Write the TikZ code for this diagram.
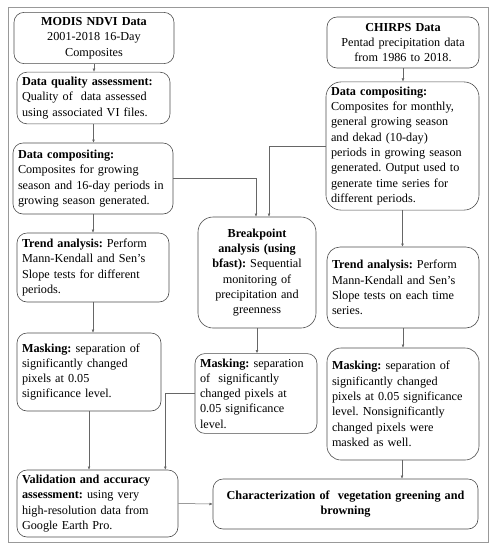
\documentclass[tikz,border=0pt]{standalone}
\usepackage{fontspec}
\setmainfont{Liberation Serif}
\usetikzlibrary{arrows.meta}
\frenchspacing

\begin{document}
\begin{tikzpicture}[x=1pt,y=-1pt,
  box/.style={draw=black!70, rounded corners=10pt, line width=0.6pt, inner sep=5pt, align=left, font=\fontsize{12.2}{15.3}\selectfont},
  arr/.style={draw=black!60, line width=0.5pt, -{Latex[length=3.2pt,width=2.8pt]}}]
\useasboundingbox (0,0) rectangle (496,550);
\draw[black!40, line width=0.8pt] (8,7) rectangle (488,542);

% left column (NDVI)
\node[box, align=center, text width=150pt, minimum height=44pt] (modis) at (94,38) {\textbf{MODIS NDVI Data}\\2001-2018 16-Day\\Composites};
\node[box, text width=143pt, minimum height=50pt] (quality) at (93.5,98) {\textbf{Data quality assessment:}\\Quality of\ \ data assessed\\using associated VI files.};
\node[box, text width=150pt, minimum height=71pt] (compL) at (93,178.5) {\textbf{Data compositing:}\\Composites for growing\\season and 16-day periods in\\growing season generated.};
\node[box, text width=142pt, minimum height=69pt] (trendL) at (93,267.5) {\textbf{Trend analysis:} Perform\\Mann-Kendall and Sen's\\Slope tests for different\\periods.};
\node[box, text width=134pt, minimum height=78pt] (maskL) at (89,372) {\textbf{Masking:} separation of\\significantly changed\\pixels at 0.05\\significance level.};
\node[box, text width=151pt, minimum height=63pt] (valid) at (97.5,503.5) {\textbf{Validation and accuracy}\\\textbf{assessment:} using very\\high-resolution data from\\Google Earth Pro.};

% right column (CHIRPS)
\node[box, align=center, text width=142pt, minimum height=51pt] (chirps) at (403,42.5) {\textbf{CHIRPS Data}\\Pentad precipitation data\\from 1986 to 2018.};
\node[box, rounded corners=15pt, text width=143pt, minimum height=126pt] (compR) at (402.5,146) {\textbf{Data compositing:}\\Composites for monthly,\\general growing season\\and dekad (10-day)\\periods in growing season\\generated. Output used to\\generate time series for\\different periods.};
\node[box, rounded corners=13pt, text width=142pt, minimum height=81pt] (trendR) at (403,287.5) {\textbf{Trend analysis:} Perform\\Mann-Kendall and Sen's\\Slope tests on each time\\series.};
\node[box, rounded corners=14pt, text width=142pt, minimum height=112pt] (maskR) at (403,404) {\textbf{Masking:} separation of\\significantly changed\\pixels at 0.05 significance\\level. Nonsignificantly\\changed pixels were\\masked as well.};

% middle
\node[box, align=center, rounded corners=15pt, text width=108pt, minimum height=111pt] (brk) at (257,272.5) {\textbf{Breakpoint}\\\textbf{analysis (using}\\\textbf{bfast):} Sequential\\monitoring of\\precipitation and\\greenness};
\node[box, text width=112pt, minimum height=77pt] (maskM) at (256,393.5) {\textbf{Masking:} separation\\of\ \ significantly\\changed pixels at\\0.05 significance\\level.};
\node[box, align=center, text width=255pt, minimum height=50pt] (char) at (345.5,504) {\textbf{Characterization of\ \ vegetation greening and}\\\textbf{browning}};

\path[arr] (modis) -- (modis |- quality.north);
\path[arr] (quality) -- (quality |- compL.north);
\path[arr] (compL) -- (compL |- trendL.north);
\path[arr] (trendL) -- (trendL |- maskL.north);
\path[arr] (maskL) -- (maskL |- valid.north);
\path[arr] (maskM.west) -| ([xshift=-13pt]valid.north east);
\path[arr] (valid.east) -- (char.west);

\path[arr] (chirps) -- (chirps |- compR.north);
\path[arr] (compR) -- (compR |- trendR.north);
\path[arr] (trendR) -- (trendR |- maskR.north);
\path[arr] ([xshift=-1pt]maskR.south) -- ([xshift=-1pt]maskR.south |- char.north);

\path[arr] (compL.east) -| ([xshift=-1pt]brk.north);
\path[arr] (compR.west) -| ([xshift=12pt]brk.north);
\path[arr] (brk) -- (brk |- maskM.north);

\end{tikzpicture}
\end{document}
